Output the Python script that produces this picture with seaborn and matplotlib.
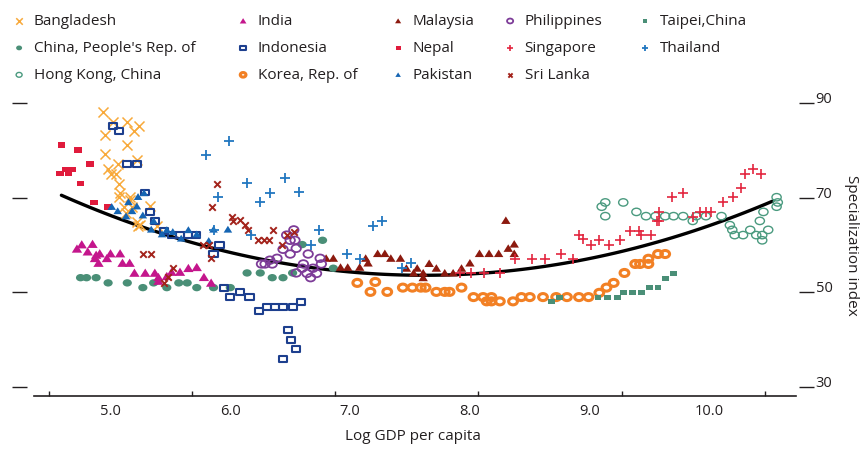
import numpy as np
import pandas as pd
import seaborn as sns
import matplotlib.pyplot as plt
from matplotlib.path import Path
from matplotlib.transforms import Affine2D

sns.set_style('white')
plt.rcParams['font.family'] = ['Open Sans', 'DejaVu Sans']
plt.rcParams['text.color'] = '#231f20'
plt.rcParams['xtick.color'] = '#231f20'
plt.rcParams['ytick.color'] = '#231f20'
plt.rcParams['axes.labelcolor'] = '#231f20'

# Data: (log GDP per capita, specialization index)
bangladesh_x = [4.94, 5.02, 5.14, 5.24, 5.20, 4.95, 5.14, 4.95, 5.22, 5.06, 4.98, 5.00, 5.05,
                5.07, 5.08, 5.07, 5.16, 5.16, 5.11, 5.18, 5.33, 5.13, 5.22, 5.23, 5.39, 5.25]
bangladesh_y = [88.2, 86.0, 86.0, 85.1, 84.1, 83.2, 81.1, 79.2, 77.9, 77.1, 76.0, 75.1, 75.1,
                73.0, 71.0, 70.1, 70.2, 69.5, 68.1, 68.1, 68.2, 66.8, 64.9, 64.0, 64.0, 64.2]

china_x = [4.75, 4.80, 4.88, 4.98, 5.14, 5.27, 5.36, 5.47, 5.57, 5.64, 5.72, 5.86, 6.00,
           6.14, 6.25, 6.35, 6.44, 6.52, 6.60, 6.77, 6.86]
china_y = [53.1, 53.1, 53.1, 52.0, 52.0, 51.0, 52.0, 51.0, 52.0, 52.0, 51.0, 51.0, 51.0,
           54.1, 54.1, 53.1, 53.1, 54.1, 60.1, 61.0, 55.1]

hongkong_x = [9.10, 9.13, 9.13, 9.28, 9.39, 9.47, 9.55, 9.63, 9.70, 9.78, 9.86, 9.89, 9.97, 10.10,
              10.17, 10.19, 10.21, 10.28, 10.34, 10.39, 10.42, 10.45, 10.44, 10.44, 10.49,
              10.56, 10.57, 10.56]
hongkong_y = [68.1, 69.0, 66.1, 69.0, 67.0, 66.1, 66.1, 66.1, 66.1, 66.1, 65.1, 66.1, 66.1, 66.1,
              64.2, 63.2, 62.1, 62.1, 63.2, 62.1, 65.1, 67.0, 62.1, 61.0, 63.2,
              70.1, 69.0, 68.1]

india_x = [4.72, 4.76, 4.85, 4.81, 4.88, 4.91, 5.00, 5.08, 4.87, 4.97, 4.90, 5.10, 5.16,
           5.20, 5.29, 5.37, 5.40, 5.47, 5.51, 5.58, 5.65, 5.72, 5.78, 5.84, 5.40]
india_y = [59.2, 60.1, 60.2, 58.6, 57.9, 58.2, 58.2, 58.2, 57.2, 57.2, 56.2, 56.2, 56.2,
           54.1, 54.1, 54.1, 53.2, 53.4, 54.3, 54.3, 55.1, 55.3, 53.2, 52.0, 52.4]

indonesia_x = [5.02, 5.07, 5.14, 5.22, 5.29, 5.33, 5.37, 5.45, 5.51, 5.58, 5.65, 5.71, 5.91, 5.86,
               5.95, 6.00, 6.08, 6.16, 6.24, 6.31, 6.37, 6.44, 6.52, 6.59, 6.48, 6.51, 6.55, 6.44]
indonesia_y = [85.1, 84.1, 77.1, 77.1, 71.1, 67.0, 65.1, 63.0, 62.1, 62.1, 62.1, 62.1, 60.0, 58.1,
               51.0, 49.0, 50.1, 49.0, 46.0, 46.9, 46.9, 46.9, 46.9, 48.0, 42.0, 40.0, 38.0, 36.0]

korea_x = [7.06, 7.21, 7.17, 7.31, 7.44, 7.52, 7.59, 7.63, 7.72, 7.79, 7.83, 7.93, 8.03, 8.11,
           8.18, 8.14, 8.18, 8.25, 8.36, 8.43, 8.50, 8.61, 8.72, 8.81, 8.91, 8.99, 9.08, 9.14,
           9.20, 9.29, 9.38, 9.42, 9.49, 9.49, 9.57, 9.63]
korea_y = [52.0, 52.2, 50.1, 50.1, 51.0, 51.0, 51.0, 51.0, 50.1, 50.1, 50.1, 51.0, 49.0, 49.0,
           49.0, 48.1, 48.1, 48.1, 48.1, 49.0, 49.0, 49.0, 49.0, 49.0, 49.0, 49.0, 49.9, 51.0,
           52.0, 54.1, 56.0, 56.0, 56.0, 57.1, 58.1, 58.1]

malaysia_x = [6.80, 6.86, 6.92, 6.98, 7.08, 7.13, 7.15, 7.23, 7.29, 7.34, 7.42, 7.47, 7.53, 7.56,
              7.61, 7.61, 7.66, 7.72, 7.79, 7.86, 7.93, 8.00, 8.08, 8.16, 8.24, 8.30, 8.32,
              8.37, 8.37]
malaysia_y = [57.2, 57.2, 55.3, 55.3, 55.3, 57.2, 56.2, 58.2, 58.2, 57.2, 57.2, 55.1, 54.1, 55.1,
              54.1, 53.1, 56.1, 55.1, 54.1, 54.1, 55.1, 56.2, 58.2, 58.2, 58.2, 65.2, 59.3,
              60.2, 58.2]

nepal_x = [4.59, 4.73, 4.83, 4.58, 4.63, 4.68, 4.65, 4.75, 4.86, 4.98]
nepal_y = [81.1, 80.1, 77.1, 75.1, 76.0, 76.0, 75.1, 73.0, 69.0, 68.0]

pakistan_x = [5.01, 5.06, 5.13, 5.15, 5.18, 5.22, 5.23, 5.28, 5.27, 5.36, 5.34, 5.43, 5.47,
              5.52, 5.59, 5.65, 5.72, 5.82, 5.86, 5.98]
pakistan_y = [68.1, 67.2, 66.1, 69.1, 67.2, 68.2, 70.2, 71.0, 66.3, 65.1, 63.3, 62.3, 63.2,
              62.8, 61.4, 63.2, 62.3, 60.9, 63.3, 63.3]

philippines_x = [6.53, 6.47, 6.54, 6.50, 6.44, 6.55, 6.50, 6.65, 6.39, 6.33, 6.29, 6.26, 6.35,
                 6.61, 6.75, 6.76, 6.60, 6.69, 6.64, 6.72, 6.67, 6.55]
philippines_y = [63.2, 62.1, 61.0, 61.0, 59.1, 59.3, 58.1, 58.1, 57.2, 56.8, 56.0, 56.0, 56.0,
                 56.0, 57.2, 56.0, 55.1, 55.1, 54.0, 54.0, 53.1, 54.1]

singapore_x = [7.92, 8.01, 8.12, 8.25, 8.38, 8.52, 8.63, 8.76, 8.86, 8.91, 8.94, 9.01, 9.08,
               9.16, 9.25, 9.34, 9.41, 9.43, 9.51, 9.58, 9.56, 9.58, 9.69, 9.78, 9.86, 9.92,
               9.97, 10.01, 10.11, 10.20, 10.26, 10.30, 10.36, 10.43]
singapore_y = [54.1, 54.1, 54.1, 54.1, 57.0, 57.0, 57.0, 58.0, 57.0, 62.1, 61.2, 60.0, 61.0,
               60.0, 61.0, 63.0, 63.0, 62.1, 62.1, 67.0, 65.1, 65.1, 70.1, 71.0, 66.0, 67.0,
               67.0, 67.0, 69.0, 70.1, 72.1, 75.1, 76.0, 75.1]

srilanka_x = [5.89, 5.85, 6.01, 6.02, 6.08, 6.12, 6.15, 6.23, 6.28, 6.32, 6.36, 6.47, 6.53,
              6.43, 5.77, 5.82, 5.84, 5.27, 5.34, 5.52, 5.45, 5.48]
srilanka_y = [73.0, 68.0, 66.0, 65.1, 65.3, 64.2, 63.2, 61.0, 61.0, 61.0, 63.2, 62.1, 62.8,
              60.0, 60.0, 60.0, 57.2, 58.1, 58.1, 55.1, 52.0, 53.3]

taipei_x = [8.68, 8.75, 9.07, 9.15, 9.23, 9.28, 9.36, 9.43, 9.50, 9.57, 9.63, 9.70]
taipei_y = [48.0, 49.0, 49.0, 49.0, 49.0, 50.0, 50.0, 50.0, 51.0, 51.0, 52.9, 54.0]

thailand_x = [5.80, 5.99, 6.14, 6.46, 6.33, 6.57, 6.25, 5.90, 5.86, 6.17, 6.74, 6.67, 6.97,
              7.08, 7.19, 7.27, 7.43, 7.51]
thailand_y = [79.1, 82.0, 73.1, 74.1, 71.0, 71.1, 69.1, 70.1, 63.2, 62.1, 63.2, 60.1, 58.0,
              57.0, 64.0, 65.1, 55.1, 56.1]

# Points
curve_x = [4.59, 4.97, 5.25, 5.64, 5.86, 6.16, 6.44, 6.72, 7.00, 7.11, 7.67, 8.22, 8.78,
           9.03, 9.59, 10.14, 10.53]
curve_y = [70.6, 66.3, 63.8, 61.0, 59.6, 57.9, 56.1, 54.9, 54.3, 53.8, 53.4, 54.0, 56.1,
           57.5, 61.4, 65.6, 68.8]

x_labels = ['5.0', '6.0', '7.0', '8.0', '9.0', '10.0']
y_ticks = [30, 50, 70, 90]

# Marker shapes
ellipse = Path.unit_circle().transformed(Affine2D().scale(1, 0.8))
rect = Path([(-1, -0.72), (1, -0.72), (1, 0.72), (-1, 0.72), (-1, -0.72)],
            [Path.MOVETO, Path.LINETO, Path.LINETO, Path.LINETO, Path.CLOSEPOLY])
tri = Path([(0, 0.85), (-1, -0.75), (1, -0.75), (0, 0.85)],
           [Path.MOVETO, Path.LINETO, Path.LINETO, Path.CLOSEPOLY])

# name, x, y, color, marker, size, hollow, linewidth
series = [
    ('Bangladesh', bangladesh_x, bangladesh_y, '#f8a93a', 'x', 52, False, 1.1),
    ("China, People's Rep. of", china_x, china_y, '#4a8f77', ellipse, 44, False, 0),
    ('Hong Kong, China', hongkong_x, hongkong_y, '#4a9a7f', ellipse, 44, True, 1.0),
    ('India', india_x, india_y, '#c4168c', tri, 55, False, 0),
    ('Indonesia', indonesia_x, indonesia_y, '#1d3f8e', rect, 34, True, 1.5),
    ('Korea, Rep. of', korea_x, korea_y, '#f28024', ellipse, 40, True, 2.2),
    ('Malaysia', malaysia_x, malaysia_y, '#8c1a0f', tri, 46, False, 0),
    ('Nepal', nepal_x, nepal_y, '#e01b3c', rect, 30, False, 0),
    ('Pakistan', pakistan_x, pakistan_y, '#1565b3', tri, 38, False, 0),
    ('Philippines', philippines_x, philippines_y, '#7d3c98', ellipse, 46, True, 1.3),
    ('Singapore', singapore_x, singapore_y, '#e3263f', '+', 55, False, 1.2),
    ('Sri Lanka', srilanka_x, srilanka_y, '#a3231b', 'x', 22, False, 1.4),
    ('Taipei,China', taipei_x, taipei_y, '#4a8f77', rect, 24, False, 0),
    ('Thailand', thailand_x, thailand_y, '#2277c0', '+', 60, False, 1.3),
]

fig = plt.figure(figsize=(8.61, 4.49), dpi=100)
ax = fig.add_axes([27 / 861, 53 / 449, 772 / 861, 301 / 449])

# Fitted curve (quadratic through the read curve points)
sns.regplot(x=curve_x, y=curve_y, order=2, scatter=False, ci=None, truncate=True,
            color='black', line_kws={'lw': 2.4, 'zorder': 1.5}, ax=ax)

for name, xs, ys, col, mk, size, hollow, lw in series:
    if hollow:
        sns.scatterplot(x=xs, y=ys, marker=mk, s=size, facecolor='none', edgecolor=col,
                        linewidth=lw, label=name, ax=ax, zorder=3)
    elif mk in ('x', '+'):
        sns.scatterplot(x=xs, y=ys, marker=mk, s=size, color=col, linewidth=lw,
                        label=name, ax=ax, zorder=3)
    else:
        sns.scatterplot(x=xs, y=ys, marker=mk, s=size, color=col, edgecolor='none',
                        label=name, ax=ax, zorder=3)

ax.set_xlim(4.303, 10.747)
ax.set_ylim(28.1, 91.7)

# Axis styling
for side in ['top', 'left', 'right']:
    ax.spines[side].set_visible(False)
ax.spines['bottom'].set_bounds(4.361, 10.722)
ax.spines['bottom'].set_linewidth(1.2)
ax.spines['bottom'].set_color('#231f20')

ax.set_xticks([4.484, 5.680, 6.871, 8.068, 9.270, 10.463])
ax.set_xticklabels([])
ax.tick_params(axis='x', which='major', direction='in', length=3.5, width=1, bottom=True)
ax.set_xticks(np.arange(5, 11), x_labels, minor=True)
ax.tick_params(axis='x', which='minor', length=0, pad=6, labelsize=10.5)

ax.set_yticks(y_ticks)
ax.tick_params(axis='y', left=True, right=True, labelleft=False, labelright=True,
               direction='out', length=10.5, width=1, pad=1.5, labelsize=10.5)
for lab in ax.get_yticklabels():
    lab.set_va('baseline')

ax.set_xlabel('Log GDP per capita', fontsize=11, labelpad=7)
ax.yaxis.set_label_position('right')
ax.set_ylabel('Specialization index', fontsize=11, rotation=270, labelpad=19)
ax.grid(False)

if ax.get_legend() is not None:
    ax.get_legend().remove()
handles, labels = ax.get_legend_handles_labels()

# Legend laid out as five columns, each placed where the reference puts it
col_left = [13, 237, 392, 504, 639]
col_items = [[0, 1, 2], [3, 4, 5], [6, 7, 8], [9, 10, 11], [12, 13]]
for x0, items in zip(col_left, col_items):
    fig.legend([handles[i] for i in items], [labels[i] for i in items], loc='upper left',
               bbox_to_anchor=(x0 / 861, 1 - 14 / 449), frameon=False, fontsize=11,
               markerscale=0.65, handlelength=0.8, handletextpad=0.55,
               labelspacing=0.78, borderpad=0, borderaxespad=0)

fig.savefig('out.png', dpi=100)
